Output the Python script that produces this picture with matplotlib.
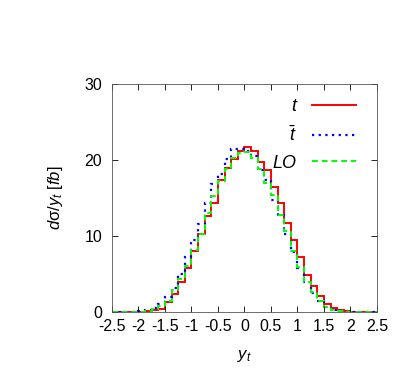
import numpy as np
import matplotlib
matplotlib.use('Agg')
import matplotlib.pyplot as plt

plt.rcParams['font.family'] = ['Liberation Sans', 'DejaVu Sans']
plt.rcParams['mathtext.fontset'] = 'custom'
plt.rcParams['mathtext.it'] = 'Liberation Sans:italic'
plt.rcParams['mathtext.rm'] = 'Liberation Sans'
plt.rcParams['mathtext.sf'] = 'Liberation Sans'

# bin edges: 40 bins of width 0.125 from -2.5 to 2.5
edges = np.linspace(-2.5, 2.5, 41)

t_vals = [0, 0, 0, 0, 0.05, 0.1, 0.2, 0.4, 1.3, 2.4,
          4.0, 5.8, 8.0, 10.2, 12.6, 14.4, 17.3, 18.9, 20.1, 21.2,
          21.7, 21.2, 19.7, 18.7, 16.4, 14.3, 11.7, 9.4, 7.2, 4.9,
          3.4, 2.1, 1.05, 0.5, 0.2, 0.1, 0.05, 0.03, 0, 0]
tbar_vals = [0, 0, 0.02, 0.05, 0.1, 0.2, 0.5, 1.05, 1.9, 3.1,
             5.0, 7.2, 9.5, 11.6, 14.3, 16.8, 18.1, 20.1, 21.4, 21.4,
             21.2, 20.5, 18.7, 17.4, 14.7, 12.7, 10.3, 7.9, 5.8, 3.9,
             2.5, 1.5, 0.65, 0.3, 0.1, 0.05, 0, 0, 0, 0]
lo_vals = [0, 0, 0, 0.02, 0.05, 0.15, 0.4, 0.8, 1.5, 2.9,
           4.3, 6.0, 8.2, 10.3, 13.0, 15.2, 17.2, 18.8, 20.2, 20.9,
           21.0, 20.3, 18.8, 17.0, 15.4, 12.8, 10.7, 8.0, 5.9, 4.0,
           2.6, 1.5, 0.7, 0.3, 0.1, 0.05, 0, 0, 0, 0]

xticks = [-2.5, -2, -1.5, -1, -0.5, 0, 0.5, 1, 1.5, 2, 2.5]
xtick_labels = ['-2.5', '-2', '-1.5', '-1', '-0.5', '0', '0.5', '1', '1.5', '2', '2.5']
yticks = [0, 10, 20, 30]

fig = plt.figure(figsize=(4.07, 3.70), dpi=100)
ax = fig.add_axes([0.275, 0.157, 0.651, 0.616])

ax.stairs(t_vals, edges, color='#ff0000', lw=1.4, label='t', baseline=None)
ax.stairs(tbar_vals, edges, color='#0000ff', lw=1.6, ls=(0, (1, 2)),
          label=r'$\bar{t}$', baseline=None)
ax.stairs(lo_vals, edges, color='#00ff00', lw=1.4, ls=(0, (3, 2)),
          label='LO', baseline=None)

ax.set_xlim(-2.5, 2.5)
ax.set_ylim(0, 30)
ax.set_xticks(xticks)
ax.set_xticklabels(xtick_labels)
ax.set_yticks(yticks)
ax.tick_params(direction='in', top=True, right=True, length=4,
               width=0.6, labelsize=11.5, colors='black')
ax.tick_params(axis='x', pad=5)
ax.tick_params(axis='y', pad=7)
for s in ax.spines.values():
    s.set_linewidth(0.6)
    s.set_color('#555555')

ax.set_xlabel('$y_t$', fontsize=12, labelpad=10)
ax.set_ylabel(r'$d\mathrm{\sigma}/y_t\ [fb]$', fontsize=12, labelpad=14)

leg = ax.legend(loc='upper right', markerfirst=False, frameon=False,
                prop={'size': 13, 'style': 'italic'},
                handlelength=2.4, labelspacing=0.55,
                borderaxespad=0.4, handletextpad=0.9,
                bbox_to_anchor=(0.975, 1.0))

plt.savefig('out.png', dpi=100)
